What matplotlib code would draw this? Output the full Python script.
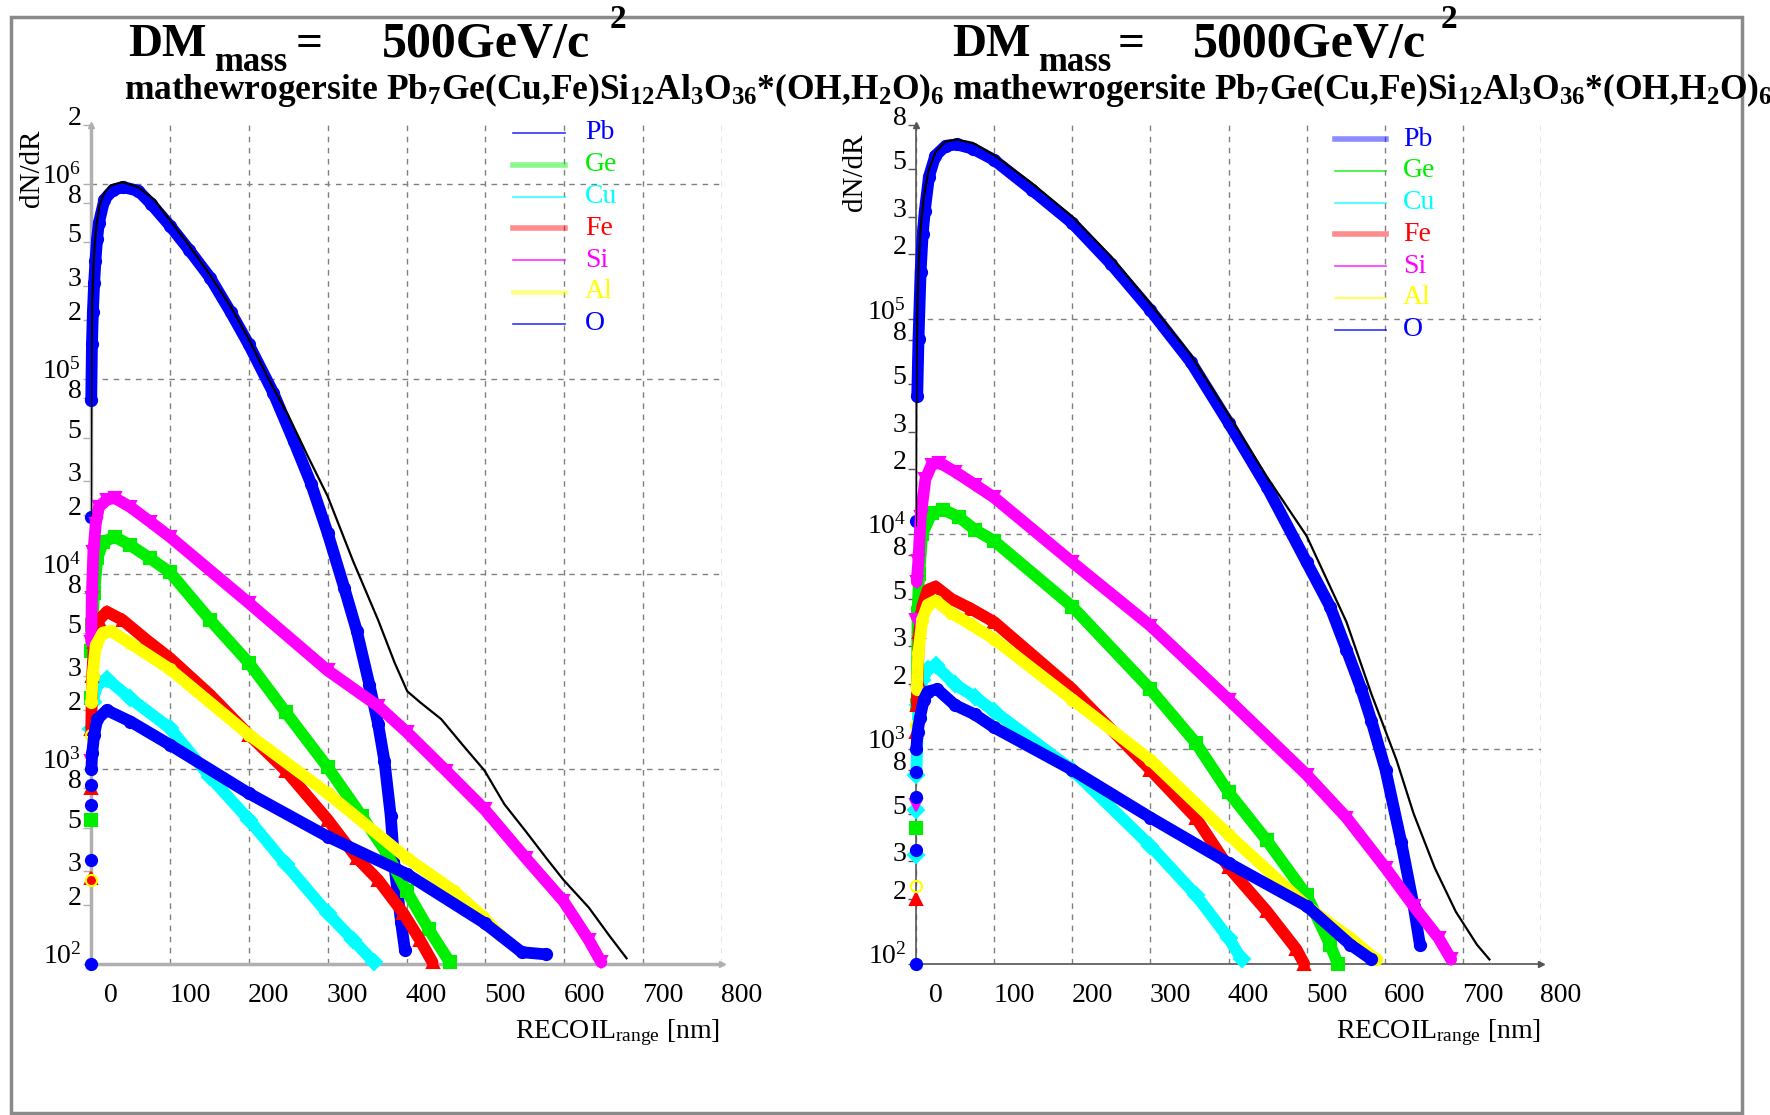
import numpy as np
import matplotlib.pyplot as plt
from matplotlib.ticker import FixedLocator, FuncFormatter
from matplotlib.transforms import ScaledTranslation
from matplotlib.patches import Rectangle
from matplotlib.lines import Line2D

plt.rcParams['font.family'] = ['Liberation Serif', 'DejaVu Serif']
plt.rcParams['mathtext.fontset'] = 'custom'
plt.rcParams['mathtext.rm'] = 'Liberation Serif'
plt.rcParams['mathtext.it'] = 'Liberation Serif:italic'
plt.rcParams['mathtext.bf'] = 'Liberation Serif:bold'

# ── element list / styles ─────────────────────────────────────────
elements = ["Pb", "Ge", "Cu", "Fe", "Si", "Al", "O"]
colors = ["#0000ff", "#00ee00", "#00ffff", "#ff0000", "#ff00ff", "#ffff00", "#0000ff"]
markers = ["o", "s", "D", "^", "v", "o", "o"]
dm_masses = [500, 5000]

# ── DM mass = 500 GeV/c^2 : dN/dR vs recoil range [nm] ────────────
x_pb_500 = [0, 0, 0.3, 1.2, 2.4, 4, 5.6, 7.7, 10, 17, 28, 41, 60, 76, 100, 124, 151, 177, 200, 231, 257,
            279, 300, 321, 337, 353, 364, 372, 380, 385, 393, 398]
y_pb_500 = [100, 1.95e4, 7.8e4, 1.5e5, 2.2e5, 3.1e5, 4.0e5, 5.2e5, 6.3e5, 8.3e5, 9.3e5, 9.6e5, 9.2e5, 7.9e5,
            6.1e5, 4.6e5, 3.3e5, 2.2e5, 1.5e5, 8.5e4, 4.8e4, 2.9e4, 1.62e4, 8.5e3, 5.1e3, 2.7e3, 1.7e3,
            1.1e3, 575, 310, 165, 118]
x_ge_500 = [0, 0, 0.5, 1.5, 4, 8, 15, 30, 50, 75, 100, 151, 200, 247, 300, 343, 375, 400, 428, 455]
y_ge_500 = [550, 2.3e3, 4e3, 5.5e3, 8e3, 1.2e4, 1.45e4, 1.55e4, 1.4e4, 1.2e4, 1.02e4, 5.8e3, 3.5e3, 1.95e3,
            1.02e3, 575, 370, 237, 151, 102]
x_cu_500 = [0, 2, 8, 20, 50, 100, 151, 200, 247, 300, 332, 359]
y_cu_500 = [1.6e3, 2.2e3, 2.7e3, 2.9e3, 2.3e3, 1.62e3, 910, 550, 325, 182, 133, 102]
x_fe_500 = [0, 0, 0.3, 1.5, 4, 10, 20, 40, 70, 100, 151, 200, 247, 300, 337, 364, 396, 417, 433]
y_fe_500 = [275, 800, 1.6e3, 3e3, 4.5e3, 5.8e3, 6.4e3, 5.8e3, 4.6e3, 3.7e3, 2.4e3, 1.5e3, 980, 550, 350, 270,
            182, 133, 102]
x_si_500 = [0, 0.3, 1, 3, 6, 10, 20, 30, 50, 75, 100, 200, 300, 364, 400, 450, 499, 551, 599, 631, 647]
y_si_500 = [1.1e3, 4.5e3, 7.5e3, 1.3e4, 1.8e4, 2.2e4, 2.4e4, 2.45e4, 2.2e4, 1.85e4, 1.55e4, 7.1e3, 3.2e3,
            2.1e3, 1.55e3, 980, 620, 350, 210, 133, 102]
x_al_500 = [0, 0, 0.5, 2, 6, 15, 25, 50, 100, 200, 300, 400, 460, 497, 518]
y_al_500 = [270, 1.5e3, 2.2e3, 3e3, 4.3e3, 5e3, 5.1e3, 4.4e3, 3.25e3, 1.5e3, 750, 350, 237, 175, 141]
x_o_500 = [0, 0, 0, 0.5, 1.5, 4, 8, 20, 50, 100, 200, 300, 400, 499, 546, 577]
y_o_500 = [340, 650, 830, 1.0e3, 1.2e3, 1.5e3, 1.8e3, 2.0e3, 1.75e3, 1.33e3, 750, 450, 290, 162, 115, 112]
x_tot_500 = [0, 0.5, 1.5, 4, 7, 11, 17, 25, 40, 60, 80, 100, 125, 151, 177, 200, 225, 250, 275, 300, 332,
             364, 385, 401, 417, 444, 471, 499, 524, 551, 577, 599, 631, 657, 679]
y_tot_500 = [2e4, 1e5, 2.5e5, 4.5e5, 6.2e5, 7.8e5, 9e5, 9.8e5, 1.02e6, 9.6e5, 8.3e5, 6.5e5, 4.8e5, 3.4e5,
             2.35e5, 1.6e5, 1.0e5, 6.5e4, 4.0e4, 2.5e4, 1.17e4, 5.8e3, 3.5e3, 2.5e3, 2.2e3, 1.8e3, 1.33e3,
             980, 660, 480, 350, 270, 195, 140, 107]

# ── DM mass = 5000 GeV/c^2 ───────────────────────────────────────
x_pb_5000 = [0, 0, 1.6, 3.2, 5.9, 8.6, 11.3, 16.6, 24.7, 38, 52, 73, 100, 148, 200, 250, 300, 352, 400, 449,
             500, 530, 551, 570, 583, 601, 621, 637, 645]
y_pb_5000 = [100, 1.15e4, 4.4e4, 8.1e4, 1.66e5, 2.5e5, 3.2e5, 4.6e5, 5.75e5, 6.4e5, 6.5e5, 6.2e5, 5.5e5,
             4.0e5, 2.8e5, 1.8e5, 1.1e5, 6.3e4, 3.3e4, 1.66e4, 7.4e3, 4.6e3, 2.9e3, 1.9e3, 1.35e3, 800, 370,
             186, 123]
x_ge_5000 = [0, 1, 2, 4, 8, 20, 35, 55, 75, 100, 200, 300, 358, 400, 449, 500, 530, 540]
y_ge_5000 = [430, 1.6e3, 4.3e3, 6.5e3, 1e4, 1.25e4, 1.3e4, 1.2e4, 1.05e4, 9.3e3, 4.6e3, 1.9e3, 1.07e3, 630,
             376, 209, 123, 100]
x_cu_5000 = [0, 0, 0.5, 3, 8, 15, 25, 50, 75, 100, 200, 300, 358, 400, 417]
y_cu_5000 = [320, 520, 760, 1.6e3, 2.1e3, 2.35e3, 2.45e3, 2.0e3, 1.75e3, 1.5e3, 800, 355, 210, 132, 105]
x_fe_5000 = [0, 0, 1, 2, 4, 8, 15, 25, 45, 70, 100, 200, 300, 358, 400, 449, 487, 497]
y_fe_5000 = [200, 1.2e3, 1.6e3, 2.1e3, 3.5e3, 4.6e3, 5.5e3, 5.7e3, 5e3, 4.5e3, 3.9e3, 1.9e3, 800, 480, 282,
             176, 117, 100]
x_si_5000 = [0, 0, 1, 3, 6, 12, 20, 30, 50, 75, 100, 200, 300, 400, 500, 551, 601, 637, 669, 685]
y_si_5000 = [550, 4e3, 6e3, 7.5e3, 1.2e4, 1.8e4, 2.1e4, 2.15e4, 1.95e4, 1.7e4, 1.48e4, 7.4e3, 3.75e3, 1.7e3,
             760, 480, 280, 186, 132, 105]
x_al_5000 = [0, 0, 1, 3, 8, 15, 25, 45, 70, 100, 200, 300, 400, 500, 556, 589]
y_al_5000 = [230, 1.3e3, 1.9e3, 2.8e3, 4e3, 4.7e3, 4.9e3, 4.3e3, 3.8e3, 3.25e3, 1.7e3, 890, 400, 186, 132, 105]
x_o_5000 = [0, 0, 0, 0.5, 2, 5, 10, 15, 27, 50, 75, 100, 200, 300, 400, 500, 556, 583]
y_o_5000 = [340, 600, 780, 1e3, 1.2e3, 1.4e3, 1.7e3, 1.85e3, 1.9e3, 1.6e3, 1.45e3, 1.26e3, 800, 480, 295,
            186, 123, 105]
x_tot_5000 = [0, 0.5, 1.5, 3, 6, 10, 16, 25, 38, 52, 73, 100, 148, 200, 250, 300, 352, 400, 449, 500, 551,
              583, 615, 637, 664, 691, 718, 734]
y_tot_5000 = [1.1e4, 5e4, 1e5, 1.7e5, 2.7e5, 3.7e5, 4.9e5, 6.0e5, 6.7e5, 6.85e5, 6.6e5, 5.8e5, 4.3e5,
              3.0e5, 1.95e5, 1.18e5, 6.8e4, 3.6e4, 1.85e4, 9.8e3, 3.9e3, 1.8e3, 890, 500, 280, 175, 123, 105]

series = {
    500: ([x_pb_500, x_ge_500, x_cu_500, x_fe_500, x_si_500, x_al_500, x_o_500],
          [y_pb_500, y_ge_500, y_cu_500, y_fe_500, y_si_500, y_al_500, y_o_500],
          x_tot_500, y_tot_500),
    5000: ([x_pb_5000, x_ge_5000, x_cu_5000, x_fe_5000, x_si_5000, x_al_5000, x_o_5000],
           [y_pb_5000, y_ge_5000, y_cu_5000, y_fe_5000, y_si_5000, y_al_5000, y_o_5000],
           x_tot_5000, y_tot_5000),
}

W, H = 1770, 1115
fig = plt.figure(figsize=(W / 100, H / 100), dpi=100)


def fx(px):
    return px / W


def fy(py):
    return 1 - py / H


# outer frame
fig.add_artist(Rectangle((fx(11), fy(1113)), fx(1742) - fx(11), fy(17) - fy(1113),
                         transform=fig.transFigure, fill=False, ec="#8a8a8a", lw=2.5))

# per-panel layout (pixel positions)
layout = [
    dict(x0=91, x1=722, ymax=2.0e6, spine="#b0b0b0", slw=2.5,
         title_x=[128, 214, 296, 382, 610], sub_x=124, ylab_x=32, ylab_y=168,
         xlab_x=720, leg_x=(513, 565, 585), leg_y0=133,
         leg_lw=[1.2, 4, 1.2, 4, 1.2, 3.5, 1.2]),
    dict(x0=916, x1=1541, ymax=8.0e5, spine="#555555", slw=1.2,
         title_x=[952, 1038, 1118, 1193, 1441], sub_x=952, ylab_x=855, ylab_y=172,
         xlab_x=1541, leg_x=(1335, 1386, 1403), leg_y0=139,
         leg_lw=[4, 1.2, 1.2, 4, 1.2, 1.2, 1.2]),
]

y_top, y_bot = 125, 964
subtitle = (r"mathewrogersite Pb$_\mathbf{7}$Ge(Cu,Fe)Si$_\mathbf{12}$Al$_\mathbf{3}$"
            r"O$_\mathbf{36}$*(OH,H$_\mathbf{2}$O)$_\mathbf{6}$")

for mass, lay in zip(dm_masses, layout):
    ax = fig.add_axes([fx(lay["x0"]), fy(y_bot), (lay["x1"] - lay["x0"]) / W, (y_bot - y_top) / H])
    ax.set_yscale("log")
    ax.set_xlim(0, 800)
    ax.set_ylim(100, lay["ymax"] * 1.0001)

    xs, ys, xt, yt = series[mass]
    for name, c, m, x, y in zip(elements, colors, markers, xs, ys):
        x = np.asarray(x, dtype=float)
        y = np.asarray(y, dtype=float)
        band = x > 0
        mfc = "none" if name == "Al" else c
        # dense histogram band
        ax.plot(x[band], y[band], color=c, lw=8.5, solid_capstyle="round", solid_joinstyle="round",
                clip_on=False, zorder=3)
        ax.plot(x, y, ls="none", marker=m, ms=8, mfc=mfc, mec=c, mew=1.5, clip_on=False, zorder=3)
    ax.plot(xt, yt, color="black", lw=1.6, zorder=4)

    # axes look
    for s in ("top", "right"):
        ax.spines[s].set_visible(False)
    for s in ("left", "bottom"):
        ax.spines[s].set_color(lay["spine"])
        ax.spines[s].set_linewidth(lay["slw"])
    ax.plot(1, 0, ">", transform=ax.transAxes, clip_on=False, ms=4, color=lay["spine"])
    ax.plot(0, 1, "^", transform=ax.transAxes, clip_on=False, ms=4, color=lay["spine"])

    ax.set_axisbelow(True)
    ax.grid(True, which="major", ls=(0, (4, 4)), color="#808080", lw=1)

    ax.xaxis.set_major_locator(FixedLocator(np.arange(0, 801, 100)))
    ax.tick_params(axis="x", length=0, pad=14, labelsize=20)
    for lbl in ax.get_xticklabels():
        lbl.set_transform(lbl.get_transform() + ScaledTranslation(0.2, 0, fig.dpi_scale_trans))

    ax.yaxis.set_major_locator(FixedLocator([1e2, 1e3, 1e4, 1e5, 1e6]))
    ax.yaxis.set_major_formatter(FuncFormatter(lambda v, p: r"$10^{%d}$" % round(np.log10(v))))
    ax.yaxis.set_minor_locator(FixedLocator([m * 10.0 ** n for n in range(2, 7) for m in (2, 3, 5, 8)]))
    ax.yaxis.set_minor_formatter(FuncFormatter(lambda v, p: "%d" % round(v / 10 ** np.floor(np.log10(v) + 1e-9))))
    ax.tick_params(axis="y", which="both", direction="out", length=6, width=1,
                   color=lay["spine"], pad=1, labelsize=20)
    for lbl in ax.get_yticklabels(which="both"):
        lbl.set_verticalalignment("baseline")

    # titles
    tx = lay["title_x"]
    fig.text(fx(tx[0]), fy(56), "DM", fontsize=34, fontweight="bold", va="baseline")
    fig.text(fx(tx[1]), fy(71), "mass", fontsize=25, fontweight="bold", va="baseline")
    fig.text(fx(tx[2]), fy(56), "=", fontsize=34, fontweight="bold", va="baseline")
    fig.text(fx(tx[3]), fy(57), "%dGeV/c" % mass, fontsize=36, fontweight="bold", va="baseline")
    fig.text(fx(tx[4]), fy(28), "2", fontsize=24, fontweight="bold", va="baseline")
    fig.text(fx(lay["sub_x"]), fy(99), subtitle, fontsize=25.5, fontweight="bold", va="baseline")

    fig.text(fx(lay["ylab_x"]), fy(lay["ylab_y"]), "dN/dR", rotation=90, fontsize=21,
             ha="center", va="center")
    fig.text(fx(lay["xlab_x"]), fy(1038), r"RECOIL$_{\mathrm{range}}$ [nm]", fontsize=20,
             ha="right", va="baseline")

    # legend
    lx0, lx1, ltx = lay["leg_x"]
    for i, (name, c) in enumerate(zip(elements, colors)):
        yy = fy(lay["leg_y0"] + i * 31.8)
        thick = lay["leg_lw"][i] > 2
        fig.add_artist(Line2D([fx(lx0), fx(lx1)], [yy, yy], transform=fig.transFigure,
                              color=c, lw=lay["leg_lw"][i], alpha=0.45 if thick else 0.8))
        fig.text(fx(ltx), yy, name, color=c, fontsize=20, va="center")

fig.savefig("out.png", dpi=100)
